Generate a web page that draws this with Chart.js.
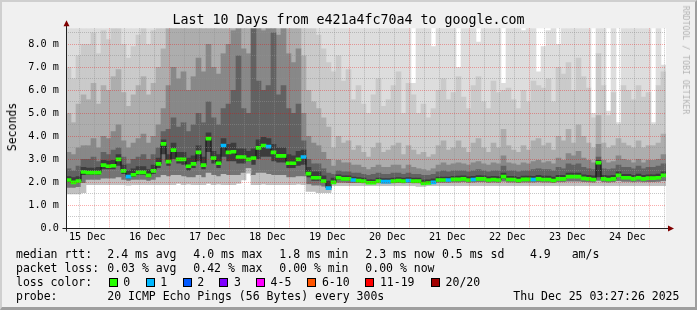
<!DOCTYPE html>
<html><head><meta charset="utf-8">
<script src="https://cdn.jsdelivr.net/npm/chart.js@4/dist/chart.umd.min.js"></script>
<style>
html,body{margin:0;padding:0;background:#f0f0f0;}
#wrap{position:relative;width:697px;height:310px;background:#f0f0f0;overflow:hidden;font-family:"DejaVu Sans Mono",monospace;color:#000;}
#c{position:absolute;left:0;top:0;}
.frame{position:absolute;left:0;top:0;width:697px;height:310px;box-sizing:border-box;border-top:2px solid #cfcfcf;border-left:2px solid #cfcfcf;border-right:2px solid #9e9e9e;border-bottom:3px solid #9e9e9e;pointer-events:none;}
.t{position:absolute;white-space:pre;font-size:11.5px;line-height:14px;}
.title{position:absolute;left:0;top:12px;width:697px;text-align:center;font-size:13.3px;line-height:15px;white-space:pre;}
.sw{position:absolute;width:9px;height:9px;box-sizing:border-box;border:1px solid #000;}
.ylab{position:absolute;left:12px;top:127px;font-size:11.5px;line-height:14px;white-space:pre;transform:translate(-50%,-50%) rotate(-90deg);}
.wm{position:absolute;left:686px;top:60px;font-size:8.2px;line-height:10px;color:#b4b4b4;white-space:pre;transform:translate(-50%,-50%) rotate(90deg);}
</style>
</head><body>
<div id="wrap">
<canvas id="c" width="697" height="310"></canvas>
<div class="title">Last 10 Days from e421a4fc70a4 to google.com</div>
<div class="ylab">Seconds</div>
<div class="wm">RRDTOOL / TOBI OETIKER</div>
<div id="legend"></div>
<div class="frame"></div>
</div>
<script>
// ---- data ----
const START_LABEL = 'Thu Dec 25 03:27:26 2025';
const START_HOUR = 3 + 27/60 + 26/3600;   // graph starts 15 Dec 03:27:26
const SPAN_HOURS = 240;
const COL_HOURS = 2;                        // one column of samples every 2 h
const DAY_LABELS = ['15 Dec','16 Dec','17 Dec','18 Dec','19 Dec','20 Dec','21 Dec','22 Dec','23 Dec','24 Dec'];
const Y_MAX = 8.6957;

// median rtt (ms)
const MEDIAN = [2.1,2.0,2.05,2.45,2.42,2.42,2.42,2.75,2.7,2.72,
 3.0,2.5,2.25,2.33,2.43,2.43,2.3,2.5,2.8,3.67,
 2.9,3.4,3.0,3.0,2.7,2.8,3.3,2.75,3.9,3.05,
 2.83,3.6,3.3,3.33,3.1,3.1,3.0,3.05,3.5,3.6,
 3.55,3.3,3.15,3.15,2.83,2.83,3.0,3.1,2.38,2.2,
 2.2,2.05,1.75,2.0,2.2,2.15,2.15,2.1,2.07,2.05,
 1.98,1.98,2.05,2.03,2.03,2.05,2.07,2.05,2.07,2.05,
 2.05,1.95,1.97,2.0,2.1,2.1,2.1,2.13,2.13,2.15,
 2.1,2.12,2.15,2.15,2.1,2.12,2.1,2.25,2.12,2.12,
 2.08,2.13,2.13,2.12,2.15,2.12,2.12,2.08,2.15,2.15,
 2.25,2.25,2.25,2.17,2.15,2.12,2.85,2.15,2.12,2.15,
 2.3,2.2,2.2,2.15,2.2,2.15,2.18,2.18,2.2,2.3];
// lost pings per column (out of 20)
const LOSS = [0,0,0,0,0,0,0,0,0,0, 0,0,1,0,0,0,0,0,0,0,
 0,0,0,0,0,0,0,0,0,0, 0,1,0,0,0,0,0,0,0,0,
 1,0,0,0,0,0,0,1,0,0, 0,0,1,0,0,0,0,1,0,0,
 0,0,0,1,1,0,0,0,1,0, 0,0,0,1,0,0,1,0,0,0,
 0,1,0,0,0,0,0,0,0,0, 0,0,0,1,0,0,0,0,0,0,
 0,0,0,0,0,0,0,0,0,0, 0,0,0,0,0,0,0,0,0,0];
// sorted ping ranks (ms): 1st (min), 5th, 9th, 12th, 14th, 16th, 18th, 19th, 20th (max)
const PING1 = [1.5,1.5,1.5,1.55,1.9,1.9,1.9,1.9,1.9,1.9,
 1.9,1.9,1.88,1.9,1.9,1.9,1.9,1.9,1.9,1.9,
 1.9,1.9,1.95,1.9,1.92,1.9,1.9,1.9,1.95,1.9,
 1.92,1.9,1.9,1.9,1.95,2.1,2.4,1.9,1.9,1.92,
 1.9,1.9,1.9,1.9,1.9,1.9,1.92,1.9,1.6,1.6,
 1.55,1.55,1.55,1.85,1.85,1.85,1.85,1.85,1.85,1.85,
 1.85,1.85,1.85,1.85,1.85,1.85,1.85,1.85,1.85,1.85,
 1.82,1.82,1.85,1.85,1.85,1.85,1.85,1.85,1.85,1.85,
 1.85,1.85,1.85,1.85,1.85,1.85,1.85,1.85,1.85,1.85,
 1.85,1.85,1.85,1.85,1.85,1.85,1.85,1.85,1.85,1.85,
 1.85,1.85,1.85,1.85,1.85,1.85,1.85,1.85,1.85,1.85,
 1.85,1.85,1.85,1.85,1.85,1.85,1.85,1.85,1.85,1.85];
const PING5 = [1.75,1.75,1.78,1.95,2.1,2.1,2.1,2.15,2.15,2.15,
 2.2,2.1,2.05,2.1,2.1,2.1,2.05,2.1,2.2,2.3,
 2.25,2.3,2.3,2.25,2.2,2.2,2.3,2.2,2.4,2.3,
 2.25,2.35,2.3,2.3,2.3,2.4,2.6,2.3,2.4,2.4,
 2.35,2.3,2.3,2.3,2.2,2.2,2.25,2.25,1.9,1.85,
 1.85,1.8,1.65,1.92,1.97,1.97,1.96,1.95,1.95,1.94,
 1.92,1.92,1.94,1.93,1.93,1.94,1.95,1.94,1.95,1.94,
 1.94,1.9,1.91,1.93,1.97,1.97,1.97,1.98,1.98,1.99,
 1.97,1.98,1.99,1.99,1.97,1.98,1.97,2.02,1.98,1.98,
 1.96,1.98,1.98,1.98,1.99,1.98,1.98,1.96,1.99,1.99,
 2.02,2.02,2.02,2.0,1.99,1.98,2.05,1.99,1.98,1.99,
 2.04,2.01,2.01,1.99,2.01,1.99,2.0,2.0,2.01,2.04];
const PING9 = [2.0,1.93,1.97,2.3,2.3,2.3,2.3,2.55,2.55,2.55,
 2.7,2.35,2.15,2.22,2.3,2.3,2.2,2.35,2.6,3.2,
 2.7,3.0,2.8,2.75,2.5,2.6,2.9,2.55,3.3,2.8,
 2.6,3.1,2.9,2.9,2.8,2.8,2.9,2.75,3.0,3.1,
 3.1,2.9,2.85,2.85,2.6,2.6,2.7,2.75,2.2,2.05,
 2.05,1.95,1.7,1.96,2.1,2.07,2.07,2.04,2.02,2.0,
 1.95,1.95,2.0,1.99,1.99,2.0,2.02,2.0,2.02,2.0,
 2.0,1.92,1.94,1.97,2.05,2.05,2.05,2.08,2.08,2.1,
 2.05,2.07,2.1,2.1,2.05,2.07,2.05,2.15,2.07,2.07,
 2.03,2.08,2.08,2.07,2.1,2.07,2.07,2.03,2.1,2.1,
 2.18,2.18,2.18,2.12,2.1,2.07,2.2,2.1,2.07,2.1,
 2.22,2.14,2.14,2.1,2.14,2.1,2.13,2.13,2.14,2.22];
const PING12 = [2.25,2.2,2.25,2.65,2.62,2.62,2.65,2.95,2.92,2.95,
 3.2,2.75,2.5,2.6,2.68,2.68,2.55,2.75,3.05,3.85,
 3.2,3.7,3.3,3.3,3.05,3.15,3.6,3.1,4.15,3.35,
 3.2,3.9,3.65,3.7,3.45,3.45,3.35,3.45,3.85,3.95,
 3.9,3.65,3.5,3.5,3.2,3.15,3.35,3.4,2.65,2.45,
 2.45,2.28,2.05,2.18,2.33,2.28,2.28,2.23,2.2,2.18,
 2.12,2.12,2.18,2.16,2.16,2.18,2.2,2.18,2.2,2.18,
 2.18,2.1,2.11,2.15,2.23,2.23,2.23,2.26,2.27,2.28,
 2.24,2.26,2.29,2.28,2.24,2.26,2.25,2.4,2.26,2.26,
 2.22,2.27,2.27,2.26,2.3,2.27,2.27,2.23,2.3,2.3,
 2.4,2.4,2.4,2.33,2.3,2.28,2.95,2.3,2.28,2.3,
 2.45,2.35,2.35,2.3,2.36,2.3,2.33,2.34,2.36,2.45];
const PING14 = [2.6,2.5,2.7,3.0,3.0,3.1,2.9,3.3,3.2,3.4,
 3.5,3.1,2.8,3.0,3.1,3.2,3.0,3.2,3.5,4.2,
 4.3,4.8,4.4,4.6,4.2,4.5,5.0,4.6,5.5,4.8,
 4.5,5.2,5.4,6.0,7.5,5.2,5.0,9,6.4,6.0,
 6.2,8.5,5.8,6.2,5.2,5.0,5.4,3.8,3.0,2.8,
 2.8,2.6,2.4,2.35,2.5,2.45,2.45,2.4,2.4,2.35,
 2.3,2.35,2.4,2.35,2.35,2.4,2.4,2.35,2.4,2.35,
 2.35,2.3,2.3,2.35,2.45,2.5,2.45,2.5,2.5,2.5,
 2.45,2.5,2.55,2.5,2.45,2.5,2.5,2.7,2.5,2.5,
 2.45,2.5,2.5,2.55,2.6,2.55,2.55,2.5,2.65,2.6,
 2.8,2.75,2.8,2.65,2.6,2.55,3.1,2.6,2.55,2.6,
 2.75,2.65,2.65,2.6,2.7,2.6,2.65,2.65,2.7,2.8];
const PING16 = [3.3,3.2,3.5,3.6,3.6,3.9,3.5,4.0,3.9,4.2,
 4.5,3.8,3.5,3.7,3.9,4.1,3.7,4.0,4.5,5.2,
 6.2,7.0,6.5,6.8,6.0,6.6,7.4,6.8,8.0,7.0,
 6.7,7.6,8.0,8.6,9,7.8,7.6,9,9,8.6,
 8.8,9,8.4,8.8,7.6,7.2,7.8,5.0,4.0,3.7,
 3.6,3.3,3.0,2.7,2.95,2.85,2.85,2.75,2.75,2.65,
 2.55,2.65,2.75,2.65,2.65,2.75,2.75,2.6,2.75,2.65,
 2.6,2.55,2.5,2.6,2.75,2.85,2.75,2.8,2.85,2.8,
 2.75,2.85,2.9,2.8,2.75,2.85,2.8,3.15,2.85,2.8,
 2.75,2.85,2.8,2.9,2.95,2.85,2.9,2.8,3.05,2.95,
 3.25,3.15,3.35,3.05,2.95,2.85,3.65,2.95,2.85,2.9,
 3.15,3.0,2.95,2.85,3.0,2.85,2.95,2.95,3.0,3.2];
const PING18 = [5.0,4.6,5.4,5.8,5.6,6.3,5.4,6.2,6.0,6.6,
 6.9,5.9,5.3,5.8,6.2,6.6,5.8,6.3,7.0,7.8,
 9,9,9,9,9,9,9,9,9,9,
 9,9,9,9,9,9,9,9,9,9,
 9,9,9,9,9,9,9,7.5,6.0,5.5,
 5.2,4.8,4.4,3.5,4.0,3.7,3.8,3.4,3.6,3.3,
 3.1,3.5,3.7,3.3,3.4,3.6,3.7,3.2,3.6,3.4,
 3.2,3.3,3.1,3.2,3.6,3.8,3.4,3.5,3.8,3.5,
 3.3,3.7,3.9,3.5,3.3,3.7,3.5,4.3,3.6,3.4,
 3.3,3.6,3.4,3.8,3.9,3.6,3.7,3.4,4.0,3.8,
 4.3,3.7,4.5,4.0,3.7,3.5,4.9,3.7,3.5,3.6,
 3.9,3.7,3.6,3.5,3.8,3.5,3.6,3.6,3.7,4.1];
const PING19 = [7.0,6.5,7.5,8.0,8.0,8.5,7.6,8.6,8.2,9,
 9,8.0,7.4,7.9,8.4,8.8,8.0,8.6,9,9,
 9,9,9,9,9,9,9,9,9,9,
 9,9,9,9,9,9,9,9,9,9,
 9,9,9,9,9,9,9,9,9,9,
 8.4,7.8,7.2,6.8,7.5,6.4,6.9,5.6,6.2,5.4,
 5.0,5.8,6.5,5.3,5.6,6.2,6.8,5.0,6.3,5.8,
 5.0,5.4,4.8,5.2,6.0,6.5,5.6,5.9,6.6,5.7,
 5.2,6.2,6.6,5.5,5.2,6.4,5.9,6.0,6.1,5.6,
 5.2,6.0,5.5,6.4,6.2,6.1,6.5,5.5,7.0,6.7,
 7.2,6.0,7.4,6.6,6.1,4.8,7.6,6.2,4.9,5.9,
 4.5,6.2,6.0,5.6,6.2,5.7,5.9,4.5,6.2,6.8];
const PING20 = [9,9,9,9,9,9,9,9,9,9, 9,9,9,9,9,9,9,9,9,9,
 9,9,9,9,9,9,9,9,9,9, 9,9,9,9,9,9,9,9,9,9,
 9,9,9,9,9,9,9,9,9,9, 9,9,9,9,9,9,9,9,9,9,
 9,9,9,9,9,9,9,9,9,6.3, 9,9,9,7.9,9,9,9,9,7.0,9,
 9,9,8.1,9,9,9,9,6.3,9,9, 9,8.6,9,9,6.8,7.9,8.6,9,8.0,9,
 9,9,9,9,9,5.0,9,9,5.1,9, 4.6,9,9,9,9,9,9,4.6,9,7.1];

// ---- build ----
const colX = MEDIAN.map((_, i) => i * COL_HOURS + COL_HOURS / 2);
const LOSS_COLORS = ['#26ff00','#00b8ff','#0059ff','#7e00ff','#ff00ff','#ff5500','#ff0000','#a10000'];
const LOSS_NAMES = ['0','1','2','3','4-5','6-10','11-19','20/20'];
function lossColor(l){ return l===0?LOSS_COLORS[0]:l===1?LOSS_COLORS[1]:l===2?LOSS_COLORS[2]:l===3?LOSS_COLORS[3]:l<=5?LOSS_COLORS[4]:l<=10?LOSS_COLORS[5]:l<=19?LOSS_COLORS[6]:LOSS_COLORS[7]; }

const bands = [
  [PING1, PING5, '#c0c0c0'],
  [PING5, PING9, '#747474'],
  [PING9, PING12, '#3c3c3c'],
  [PING12, PING14, '#626262'],
  [PING14, PING16, '#888888'],
  [PING16, PING18, '#adadad'],
  [PING18, PING19, '#cacaca'],
  [PING19, PING20, '#dddddd']
];
const datasets = bands.map(([lo, hi, col]) => ({
  type: 'bar', grouped: false, order: 10,
  data: colX.map((x, i) => ({x, y: [lo[i], hi[i]]})),
  backgroundColor: col, borderWidth: 0, barPercentage: 1, categoryPercentage: 1,
  clip: 0
}));
datasets.push({
  type: 'line', order: 2, stepped: 'middle',
  data: colX.map((x, i) => ({x, y: MEDIAN[i]})),
  borderColor: '#111111', borderWidth: 1, pointRadius: 0, clip: 0
});
datasets.push({
  type: 'bar', grouped: false, order: 1,
  data: colX.map((x, i) => ({x, y: [MEDIAN[i] - 0.065, MEDIAN[i] + 0.065]})),
  backgroundColor: LOSS.map(lossColor), borderWidth: 0, barPercentage: 1, categoryPercentage: 1, clip: 0
});

const xTicks = [];
for (let h = 6 - START_HOUR; h < SPAN_HOURS; h += 6) xTicks.push(h);
const hod = h => ((h + START_HOUR) % 24 + 24) % 24;
const isMidnight = h => hod(h) < 0.01 || hod(h) > 23.99;
const isNoon = h => Math.abs(hod(h) - 12) < 0.01;
const yTicks = [];
for (let v = 0; v <= 8.5; v += 0.5) yTicks.push(v);
const isInt = v => Math.abs(v - Math.round(v)) < 0.01;
const MGRID = 'rgba(240,0,0,0.33)', GRID = 'rgba(143,143,143,0.5)';

const FONT = 'DejaVu Sans Mono';
const frame = {
  id: 'rrdframe',
  beforeDraw(chart) {
    const {ctx, chartArea: a} = chart;
    ctx.save(); ctx.fillStyle = '#ffffff';
    ctx.fillRect(a.left, a.top, a.right - a.left, a.bottom - a.top);
    ctx.restore();
  },
  afterDraw(chart) {
    const {ctx, chartArea: a} = chart;
    ctx.save();
    ctx.strokeStyle = '#202020'; ctx.lineWidth = 1;
    const xl = Math.round(a.left) + 0.5, yb = Math.round(a.bottom) + 0.5;
    ctx.beginPath();
    ctx.moveTo(xl, yb + 3); ctx.lineTo(xl, a.top - 5);
    ctx.moveTo(xl - 4, yb); ctx.lineTo(a.right + 5, yb);
    ctx.stroke();
    ctx.fillStyle = '#800000';
    ctx.beginPath();
    ctx.moveTo(xl, a.top - 8); ctx.lineTo(xl - 3, a.top - 2); ctx.lineTo(xl + 3, a.top - 2); ctx.closePath(); ctx.fill();
    ctx.beginPath();
    ctx.moveTo(a.right + 8, yb); ctx.lineTo(a.right + 2, yb - 3); ctx.lineTo(a.right + 2, yb + 3); ctx.closePath(); ctx.fill();
    ctx.restore();
  }
};

new Chart(document.getElementById('c'), {
  type: 'bar',
  data: {datasets},
  options: {
    responsive: false, animation: false, devicePixelRatio: 1,
    layout: {padding: {left: 0, right: 31, top: 28.3, bottom: 61.7}},
    plugins: {legend: {display: false}, title: {display: false}, tooltip: {enabled: false}},
    scales: {
      x: {
        type: 'linear', min: 0, max: SPAN_HOURS, offset: false,
        afterFit(s) { s.height = 20; },
        afterBuildTicks(s) { s.ticks = xTicks.map(v => ({value: v})); },
        ticks: {autoSkip: false, maxRotation: 0, minRotation: 0, padding: 3, color: '#000',
          font: {family: FONT, size: 10.2},
          callback: v => isNoon(v) ? DAY_LABELS[Math.round((v + START_HOUR - 12) / 24)] : ''},
        grid: {z: 1, drawTicks: false, lineWidth: 1,
          color: c => (c.tick && isMidnight(c.tick.value)) ? MGRID : GRID},
        border: {display: false, dash: [1, 1]}
      },
      y: {
        type: 'linear', min: 0, max: Y_MAX,
        afterFit(s) { s.width = 66; },
        afterBuildTicks(s) { s.ticks = yTicks.map(v => ({value: v})); },
        ticks: {autoSkip: false, padding: 7, color: '#000', font: {family: FONT, size: 10.2},
          callback: v => isInt(v) ? (v === 0 ? '0.0' : v.toFixed(1) + ' m') : ''},
        grid: {z: 1, drawTicks: false, lineWidth: 1,
          color: c => (c.tick && isInt(c.tick.value)) ? MGRID : GRID},
        border: {display: false, dash: [1, 1]}
      }
    }
  },
  plugins: [frame]
});

// ---- legend (text) ----
const MED_STATS = ['2.4 ms avg','4.0 ms max','1.8 ms min','2.3 ms now','0.5 ms sd','4.9','am/s'];
const LOSS_STATS = ['0.03 % avg','0.42 % max','0.00 % min','0.00 % now'];
const PROBE = '20 ICMP Echo Pings (56 Bytes) every 300s';
const lg = document.getElementById('legend');
function txt(s, x, y) { const d = document.createElement('div'); d.className = 't'; d.textContent = s; d.style.left = x + 'px'; d.style.top = y + 'px'; lg.appendChild(d); }
const row = [247.3, 261.3, 275.3, 288.7];
const colsX = [107.3, 193.3, 279.3, 365.3, 442, 530, 571.7];
txt('median rtt:', 16, row[0]);
MED_STATS.forEach((s, i) => txt(s, colsX[i], row[0]));
txt('packet loss:', 16, row[1]);
LOSS_STATS.forEach((s, i) => txt(s, colsX[i], row[1]));
txt('loss color:', 16, row[2]);
const swX = [108.7, 145.7, 182.7, 219.3, 256, 307.3, 365.3, 431];
LOSS_NAMES.forEach((n, i) => {
  const b = document.createElement('div'); b.className = 'sw';
  b.style.left = Math.round(swX[i]) + 'px'; b.style.top = '278px'; b.style.background = LOSS_COLORS[i];
  lg.appendChild(b);
  txt(n, swX[i] + 14.6, row[2]);
});
txt('probe:', 16, row[3]);
txt(PROBE, 107.3, row[3]);
txt(START_LABEL, 513.3, row[3]);
</script>
</body></html>
